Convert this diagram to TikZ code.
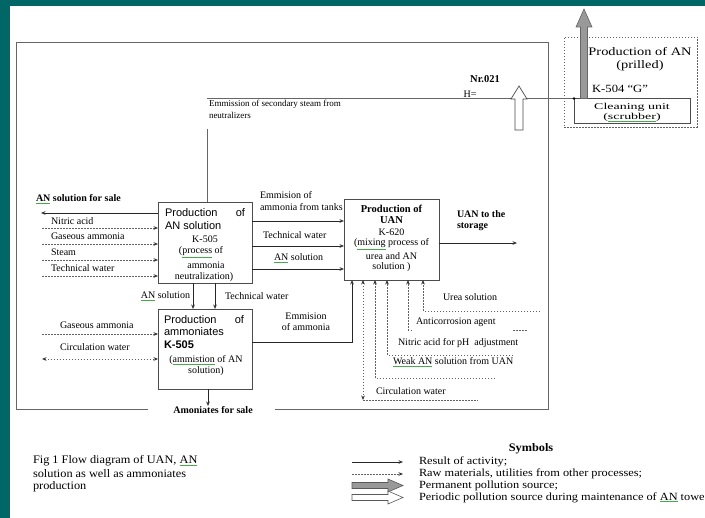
\documentclass[tikz,border=0pt]{standalone}
\usepackage{fontspec}
\usepackage{graphicx}
\setmainfont{Liberation Serif}
\setsansfont{Liberation Sans}
\usetikzlibrary{arrows.meta}
\definecolor{bandteal}{RGB}{0,102,102}
\definecolor{spellgreen}{RGB}{70,170,70}
\newcommand\gul[1]{\textcolor{spellgreen}{\underline{\textcolor{black}{#1}}}}
\newcommand\fs[1]{\fontsize{#1}{#1}\selectfont}
\begin{document}
\begin{tikzpicture}[x=1pt,y=-1pt,
  every node/.style={inner sep=0pt,outer sep=0pt},
  lab/.style={font=\fs{10}},
  blab/.style={font=\bfseries\fs{10}},
  sanslab/.style={font=\sffamily\fs{11}},
  box/.style={draw=black!70,line width=0.9pt,fill=white},
  frame/.style={draw=black!60,line width=0.8pt},
  sol/.style={draw=black!85,line width=0.7pt},
  dotl/.style={draw=black!62,line width=0.9pt,dash pattern=on 1.5pt off 1.5pt},
  arrowend/.style={-{Stealth[length=4.5pt,width=3.6pt,color=black!80]}},
  arrowboth/.style={{Stealth[length=4.5pt,width=3.6pt,color=black!80]}-{Stealth[length=4.5pt,width=3.6pt,color=black!80]}},
  legtext/.style={anchor=west,font=\fs{11}},
  captext/.style={anchor=west,font=\fs{11.5}},
]
\useasboundingbox (0,0) rectangle (705,518);
\fill[white] (0,0) rectangle (705,518);
\fill[bandteal] (0,0) rectangle (705,6.5);
\fill[bandteal] (0,0) rectangle (9.5,518);

% outer frame
\draw[frame] (148,409) -- (16,409) -- (16,42) -- (548,42) -- (548,409) -- (275,409);

% top-right unit
\node[dotl,minimum width=133pt,minimum height=90pt] (prill) at (630.5,82) {};
\node[draw=black!70,line width=0.8pt,fill=white,minimum width=116pt,minimum height=25pt] (clean) at (632,111) {};
\node[font=\fs{11.5}] (tprod) at (640,52) {\scalebox{1.25}[1]{Production of AN}};
\node[font=\fs{11.5}] (tpril) at (640,66) {\scalebox{1.25}[1]{(prilled)}};
\node[font=\fs{11}] (tk504) at (620,89) {\scalebox{1.15}[1]{K-504 “G”}};
\node[font=\fs{9}] (tclean1) at (632,107) {\scalebox{1.55}[1]{Cleaning unit}};
\node[font=\fs{9}] (tclean2) at (632,117.5) {\scalebox{1.55}[1]{(\gul{scrubber})}};
\filldraw[fill=black!40,draw=black!60,line width=0.6pt] (580.5,98.5) -- (580.5,27) -- (576,27) -- (584,9) -- (592,27) -- (587.5,27) -- (587.5,98.5) -- cycle;

% secondary steam
\coordinate (stmL) at (207,98.5);
\draw[frame,line width=0.7pt] (stmL) -- (clean.north west);
\fill (clean.north west) circle (1.4pt);
\node[font=\fs{9},anchor=west] (tsec1) at (209,104.5) {Emmission of secondary steam from};
\node[font=\fs{9},anchor=west] (tsec2) at (209,115.5) {neutralizers};
\node[font=\bfseries\fs{10.5}] (tnr) at (485,79) {Nr.021};
\node[font=\fs{10}] (th) at (470,94) {H=};
\filldraw[fill=white,draw=black!70,line width=0.7pt] (515,130) -- (515,99) -- (511,99) -- (519,86) -- (527,99) -- (523,99) -- (523,130) -- cycle;

% labels left of box A
\node[blab,anchor=west] (lsale) at (36,199) {\gul{AN} solution for sale};
\node[lab,anchor=west] (lnit) at (51,221) {Nitric acid};
\node[lab,anchor=west] (lgas) at (51,236) {Gaseous ammonia};
\node[lab,anchor=west] (lst) at (51,252) {Steam};
\node[lab,anchor=west] (ltw) at (51,268) {Technical water};
% labels between A and UAN
\node[lab,anchor=west] (lem1) at (260,195) {Emmision of};
\node[lab,anchor=west] (lem2) at (260,207) {ammonia from tanks};
\node[lab,anchor=west] (ltw2) at (263,235) {Technical water};
\node[lab,anchor=west] (lan2) at (274,258) {\gul{AN} solution};

% boxes
\node[box,minimum width=94pt,minimum height=81pt] (pa) at (205,242.5) {};
\node[box,minimum width=95pt,minimum height=81pt] (uan) at (391.5,239.5) {};
\node[box,minimum width=94pt,minimum height=80pt] (pb) at (205,349) {};

% box A text
\node[sanslab] (a1) at (205,213) {\makebox[80pt]{Production\hfill of}};
\node[sanslab,anchor=west] (a2) at (165,226) {AN solution};
\node[lab] (a3) at (205,239) {K-505};
\node[lab] (a4) at (201,252) {(\gul{process} of};
\node[lab] (a5) at (206,265) {ammonia};
\node[lab] (a6) at (204,277.5) {neutralization)};
% UAN text
\node[font=\bfseries\fs{10.5}] (u1) at (391.5,209) {Production of};
\node[font=\bfseries\fs{10.5}] (u2) at (391.5,220) {UAN};
\node[lab] (u3) at (391.5,232) {K-620};
\node[lab] (u4) at (391.5,244) {(\gul{mixing} process of};
\node[lab] (u5) at (391.5,256) {urea and AN};
\node[lab] (u6) at (391.5,267) {solution )};
% box B text
\node[sanslab] (b1) at (204,320) {\makebox[80pt]{Production\hfill of}};
\node[sanslab,anchor=west] (b2) at (164,332) {ammoniates};
\node[sanslab,anchor=west,font=\sffamily\bfseries\fs{11}] (b3) at (164,345) {K-505};
\node[lab] (b4) at (206,360) {(\gul{ammistion} of AN};
\node[lab] (b5) at (206,371) {solution)};

\node[blab,anchor=west] (lsto1) at (457,214) {UAN to the};
\node[blab,anchor=west] (lsto2) at (457,227) {storage};
\node[lab,anchor=east] (lanb) at (190,296) {\gul{AN} solution};
\node[lab,anchor=west] (ltwb) at (225,296) {Technical water};
\node[lab] (lemb1) at (306,316) {Emmision};
\node[lab] (lemb2) at (306,327) {of ammonia};
\node[lab,anchor=west] (lgasb) at (60,325) {Gaseous ammonia};
\node[lab,anchor=west] (lcwb) at (60,347) {Circulation water};
\node[blab] (lamo) at (213,410) {Amoniates for sale};
\node[lab,anchor=west] (lurea) at (443,297) {Urea solution};
\node[lab,anchor=west] (lanti) at (416,322) {Anticorrosion agent};
\node[lab,anchor=west] (lnit2) at (398,343) {Nitric acid for pH~ adjustment};
\node[lab,anchor=west] (lweak) at (393,362) {\gul{Weak AN} solution from UAN};
\node[lab,anchor=west] (lcw2) at (376,391) {Circulation water};

% connectors
\coordinate (stmtop) at (207,129);
\draw[frame,line width=0.7pt] (stmtop) -- (stmtop |- pa.north);
\coordinate (csale) at (41,213);
\draw[sol,arrowend] (pa.west |- csale) -- (csale);
\foreach \yy/\nm in {228/ra,244/rb,260/rc,276/rd}{
  \coordinate (\nm) at (42,\yy);
  \draw[dotl,arrowend] (\nm) -- (pa.west |- \nm);}
\foreach \yy/\nm in {221/ea,246/eb,269/ec}{
  \coordinate (\nm) at (300,\yy);
  \draw[sol,arrowend] (pa.east |- \nm) -- (uan.west |- \nm);}
\coordinate (cst) at (517,243);
\draw[sol,arrowend] (uan.east |- cst) -- (cst);
\coordinate (va) at (193,296);
\coordinate (vb) at (215,296);
\draw[sol,arrowend] (pa.south -| va) -- (pb.north -| va);
\draw[sol,arrowend] (pa.south -| vb) -- (pb.north -| vb);
\coordinate (ga) at (42,334);
\draw[dotl,arrowend] (ga) -- (pb.west |- ga);
\coordinate (cw) at (42,359);
\draw[dotl,arrowboth] (cw) -- (pb.west |- cw);
\coordinate (amo) at (208,406);
\draw[sol,arrowend] (pb.south -| amo) -- (amo);
\coordinate (k1) at (352,342);
\draw[sol,arrowend] (pb.east |- k1) -- (k1) -- (uan.south -| k1);
\coordinate (k2) at (363,400);
\coordinate (k2e) at (478,400);
\draw[dotl,arrowboth] (uan.south -| k2) -- (k2);
\draw[dotl] (k2) -- (k2e);
\coordinate (k3) at (375,378);
\coordinate (k3e) at (495,378);
\draw[dotl,arrowend] (k3e) -- (k3) -- (uan.south -| k3);
\coordinate (k4) at (387,355);
\coordinate (k4e) at (513,355);
\draw[dotl,arrowend] (k4e) -- (k4) -- (uan.south -| k4);
\coordinate (k5) at (408,330);
\coordinate (k5e) at (412,330);
\draw[dotl,arrowend] (k5e) -- (k5) -- (uan.south -| k5);
\coordinate (k5f) at (513,330);
\coordinate (k5g) at (528,330);
\draw[dotl] (k5f) -- (k5g);
\coordinate (k6) at (423,311);
\coordinate (k6e) at (540,311);
\draw[dotl,arrowend] (k6e) -- (k6) -- (uan.south -| k6);

% caption
\node[captext] (cap1) at (33,461) {\scalebox{1.07}[1]{Fig 1 Flow diagram of UAN, \gul{AN}}};
\node[captext] (cap2) at (33,474) {\scalebox{1.07}[1]{solution as well as ammoniates}};
\node[captext] (cap3) at (33,487) {\scalebox{1.07}[1]{production}};

% legend
\node[font=\bfseries\fs{11.5}] (sym) at (531,449) {\scalebox{1.07}[1]{Symbols}};
\coordinate (s1a) at (352,462); \coordinate (s1b) at (403,462);
\draw[sol,arrowend] (s1a) -- (s1b);
\coordinate (s2a) at (352,474); \coordinate (s2b) at (403,474);
\draw[dotl,arrowend] (s2a) -- (s2b);
\filldraw[fill=black!40,draw=black!65,line width=0.6pt] (352,482.5) -- (388,482.5) -- (388,479) -- (403,485.5) -- (388,492) -- (388,488.5) -- (352,488.5) -- cycle;
\filldraw[fill=white,draw=black!65,line width=0.6pt] (352,494.5) -- (388,494.5) -- (388,491) -- (403,497.5) -- (388,504) -- (388,500.5) -- (352,500.5) -- cycle;
\node[legtext] (sy1) at (419,462) {\scalebox{1.12}[1]{Result of activity;}};
\node[legtext] (sy2) at (419,474) {\scalebox{1.12}[1]{Raw materials, utilities from other processes;}};
\node[legtext] (sy3) at (419,485.5) {\scalebox{1.12}[1]{Permanent pollution source;}};
\node[legtext] (sy4) at (419,497.5) {\scalebox{1.12}[1]{Periodic pollution source during maintenance of \gul{AN} towe}};
\end{tikzpicture}
\end{document}
